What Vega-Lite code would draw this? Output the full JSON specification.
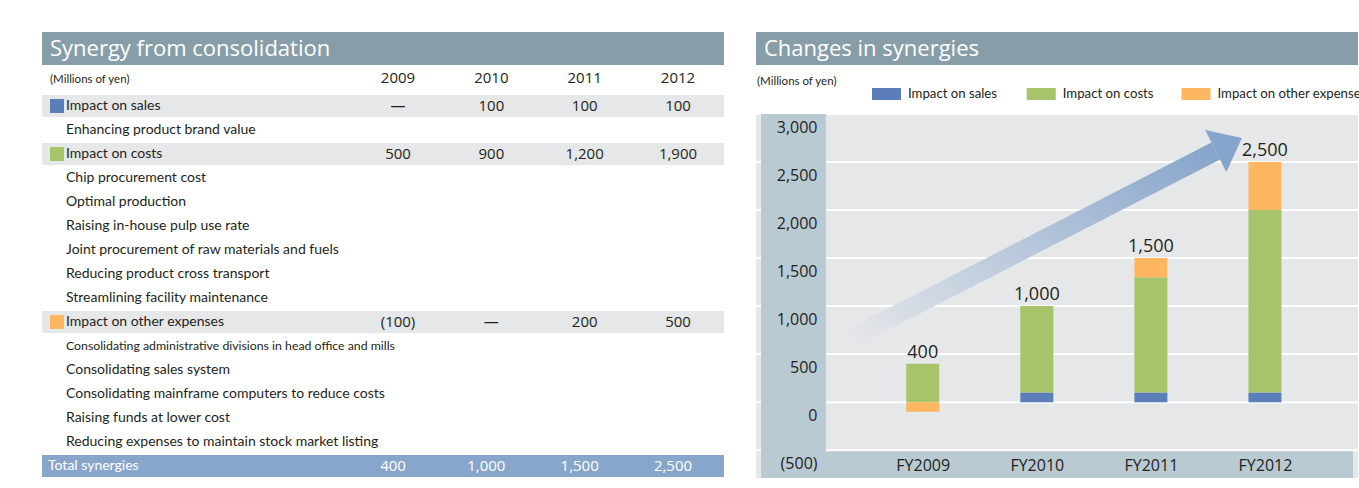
{
  "$schema": "https://vega.github.io/schema/vega-lite/v6.json",
  "background": "white",
  "padding": {"left": 42, "top": 32, "right": 0, "bottom": 0},
  "spacing": 31,
  "config": {"view": {"stroke": null}, "font": "Open Sans"},
  "datasets": {
    "rows": [
      {"r": 0, "label": "(Millions of yen)", "kind": "head"},
      {"r": 1, "label": "Impact on sales", "kind": "main", "cat": "Impact on sales"},
      {"r": 2, "label": "Enhancing product brand value", "kind": "sub"},
      {"r": 3, "label": "Impact on costs", "kind": "main", "cat": "Impact on costs"},
      {"r": 4, "label": "Chip procurement cost", "kind": "sub"},
      {"r": 5, "label": "Optimal production", "kind": "sub"},
      {"r": 6, "label": "Raising in-house pulp use rate", "kind": "sub"},
      {"r": 7, "label": "Joint procurement of raw materials and fuels", "kind": "sub"},
      {"r": 8, "label": "Reducing product cross transport", "kind": "sub"},
      {"r": 9, "label": "Streamlining facility maintenance", "kind": "sub"},
      {"r": 10, "label": "Impact on other expenses", "kind": "main", "cat": "Impact on other expenses"},
      {"r": 11, "label": "Consolidating administrative divisions in head office and mills", "kind": "sub"},
      {"r": 12, "label": "Consolidating sales system", "kind": "sub"},
      {"r": 13, "label": "Consolidating mainframe computers to reduce costs", "kind": "sub"},
      {"r": 14, "label": "Raising funds at lower cost", "kind": "sub"},
      {"r": 15, "label": "Reducing expenses to maintain stock market listing", "kind": "sub"},
      {"r": 16, "label": "Total synergies", "kind": "total"}
    ],
    "cells": [
      {"r": 0, "year": "2009", "v": null}, {"r": 0, "year": "2010", "v": null}, {"r": 0, "year": "2011", "v": null}, {"r": 0, "year": "2012", "v": null},
      {"r": 1, "year": "2009", "v": null}, {"r": 1, "year": "2010", "v": 100}, {"r": 1, "year": "2011", "v": 100}, {"r": 1, "year": "2012", "v": 100},
      {"r": 3, "year": "2009", "v": 500}, {"r": 3, "year": "2010", "v": 900}, {"r": 3, "year": "2011", "v": 1200}, {"r": 3, "year": "2012", "v": 1900},
      {"r": 10, "year": "2009", "v": -100}, {"r": 10, "year": "2010", "v": null}, {"r": 10, "year": "2011", "v": 200}, {"r": 10, "year": "2012", "v": 500},
      {"r": 16, "year": "2009", "v": 400}, {"r": 16, "year": "2010", "v": 1000}, {"r": 16, "year": "2011", "v": 1500}, {"r": 16, "year": "2012", "v": 2500}
    ],
    "bars": [
      {"fy": 2009, "cat": "Impact on costs", "v": 400},
      {"fy": 2009, "cat": "Impact on other expenses", "v": -100},
      {"fy": 2010, "cat": "Impact on sales", "v": 100},
      {"fy": 2010, "cat": "Impact on costs", "v": 900},
      {"fy": 2011, "cat": "Impact on sales", "v": 100},
      {"fy": 2011, "cat": "Impact on costs", "v": 1200},
      {"fy": 2011, "cat": "Impact on other expenses", "v": 200},
      {"fy": 2012, "cat": "Impact on sales", "v": 100},
      {"fy": 2012, "cat": "Impact on costs", "v": 1900},
      {"fy": 2012, "cat": "Impact on other expenses", "v": 500}
    ],
    "totals": [
      {"fy": 2009, "total": 400},
      {"fy": 2010, "total": 1000},
      {"fy": 2011, "total": 1500},
      {"fy": 2012, "total": 2500}
    ],
    "grid": [{"g": -500}, {"g": 0}, {"g": 500}, {"g": 1000}, {"g": 1500}, {"g": 2000}, {"g": 2500}, {"g": 3000}],
    "legend": [{"cat": "Impact on sales"}, {"cat": "Impact on costs"}, {"cat": "Impact on other expenses"}],
    "arrow": [
      {"ax": 2008.341, "ay": 647, "end": "tail"},
      {"ax": 2011.569, "ay": 2614, "end": "head"}
    ]
  },
  "hconcat": [
    {
      "bounds": "flush",
      "spacing": 5,
      "vconcat": [
        {
          "width": 682,
          "height": 33,
          "view": {"fill": "#879ea9", "stroke": null},
          "data": {"values": [{"t": "Synergy from consolidation"}]},
          "mark": {"type": "text", "align": "left", "baseline": "middle", "color": "#ffffff", "font": "Open Sans", "fontSize": 22},
          "encoding": {
            "x": {"datum": "t", "type": "nominal", "axis": null, "scale": {"type": "point", "domain": ["t"], "range": [8, 8]}},
            "text": {"field": "t", "type": "nominal"}
          }
        },
        {
          "width": 682,
          "height": 408,
          "view": {"stroke": null},
          "resolve": {"scale": {"x": "independent"}},
          "encoding": {
            "y": {"field": "r", "type": "ordinal", "title": null, "axis": null,
                  "scale": {"type": "band", "domain": [0,1,2,3,4,5,6,7,8,9,10,11,12,13,14,15,16], "paddingInner": 0, "paddingOuter": 0}}
          },
          "layer": [
            {
              "data": {"name": "rows"},
              "transform": [{"filter": "datum.kind == 'main'"}],
              "mark": {"type": "bar", "color": "#e6e7e8", "height": {"band": 0.92}},
              "encoding": {}
            },
            {
              "data": {"name": "rows"},
              "transform": [{"filter": "datum.kind == 'total'"}],
              "mark": {"type": "bar", "color": "#88a6cc", "height": {"band": 0.92}},
              "encoding": {}
            },
            {
              "data": {"name": "rows"},
              "transform": [{"filter": "datum.kind == 'main'"}],
              "mark": {"type": "square", "size": 196, "filled": true, "opacity": 1},
              "encoding": {
                "x": {"datum": "sq", "type": "nominal", "axis": null, "scale": {"type": "point", "domain": ["sq"], "range": [15, 15]}},
                "color": {"field": "cat", "type": "nominal", "legend": null,
                          "scale": {"domain": ["Impact on sales", "Impact on costs", "Impact on other expenses"], "range": ["#5b7db9", "#a8c46b", "#fcb760"]}}
              }
            },
            {
              "data": {"name": "rows"},
              "transform": [{"filter": "datum.kind == 'main' || datum.kind == 'sub'"}],
              "mark": {"type": "text", "align": "left", "baseline": "middle", "font": "Lato", "color": "#231f20"},
              "encoding": {
                "x": {"datum": "lab", "type": "nominal", "axis": null, "scale": {"type": "point", "domain": ["lab"], "range": [24, 24]}},
                "text": {"field": "label", "type": "nominal"},
                "size": {"condition": {"test": "length(datum.label) > 55", "value": 12.3}, "value": 14}
              }
            },
            {
              "data": {"name": "rows"},
              "transform": [{"filter": "datum.kind == 'head'"}],
              "mark": {"type": "text", "align": "left", "baseline": "middle", "dy": -2, "font": "Lato", "fontSize": 11.5, "color": "#231f20"},
              "encoding": {
                "x": {"datum": "hd", "type": "nominal", "axis": null, "scale": {"type": "point", "domain": ["hd"], "range": [8, 8]}},
                "text": {"field": "label", "type": "nominal"}
              }
            },
            {
              "data": {"name": "rows"},
              "transform": [{"filter": "datum.kind == 'total'"}],
              "mark": {"type": "text", "align": "left", "baseline": "middle", "font": "Lato", "fontSize": 14, "color": "#ffffff"},
              "encoding": {
                "x": {"datum": "tt", "type": "nominal", "axis": null, "scale": {"type": "point", "domain": ["tt"], "range": [6, 6]}},
                "text": {"field": "label", "type": "nominal"}
              }
            },
            {
              "data": {"name": "cells"},
              "transform": [{"filter": "datum.r == 0"}],
              "mark": {"type": "text", "align": "center", "baseline": "middle", "dy": -4, "font": "Open Sans", "fontSize": 15, "color": "#231f20"},
              "encoding": {
                "x": {"field": "year", "type": "nominal", "axis": null, "scale": {"type": "point", "domain": ["2009", "2010", "2011", "2012"], "range": [356, 636], "padding": 0}},
                "text": {"field": "year", "type": "nominal"}
              }
            },
            {
              "data": {"name": "cells"},
              "transform": [{"filter": "datum.r > 0 && datum.r < 16"}],
              "mark": {"type": "text", "align": "center", "baseline": "middle", "font": "Open Sans", "fontSize": 15, "color": "#231f20"},
              "encoding": {
                "x": {"field": "year", "type": "nominal", "axis": null, "scale": {"type": "point", "domain": ["2009", "2010", "2011", "2012"], "range": [356, 636], "padding": 0}},
                "text": {"condition": {"test": "datum.v == null", "value": "—"}, "field": "v", "type": "quantitative", "format": "(,d"}
              }
            },
            {
              "data": {"name": "cells"},
              "transform": [{"filter": "datum.r == 16"}],
              "mark": {"type": "text", "align": "center", "baseline": "middle", "dx": -5, "font": "Open Sans", "fontSize": 15, "color": "#ffffff"},
              "encoding": {
                "x": {"field": "year", "type": "nominal", "axis": null, "scale": {"type": "point", "domain": ["2009", "2010", "2011", "2012"], "range": [356, 636], "padding": 0}},
                "text": {"field": "v", "type": "quantitative", "format": ","}
              }
            }
          ]
        }
      ]
    },
    {
      "bounds": "flush",
      "spacing": 0,
      "vconcat": [
        {
          "width": 602,
          "height": 33,
          "view": {"fill": "#879ea9", "stroke": null},
          "data": {"values": [{"t": "Changes in synergies"}]},
          "mark": {"type": "text", "align": "left", "baseline": "middle", "color": "#ffffff", "font": "Open Sans", "fontSize": 22},
          "encoding": {
            "x": {"datum": "t", "type": "nominal", "axis": null, "scale": {"type": "point", "domain": ["t"], "range": [8, 8]}},
            "text": {"field": "t", "type": "nominal"}
          }
        },
        {
          "width": 602,
          "height": 49,
          "view": {"stroke": null},
          "resolve": {"scale": {"x": "independent"}},
          "layer": [
            {
              "data": {"values": [{"t": "(Millions of yen)"}]},
              "mark": {"type": "text", "align": "left", "baseline": "middle", "dy": -8, "font": "Lato", "fontSize": 11.5, "color": "#231f20"},
              "encoding": {
                "x": {"datum": "t", "type": "nominal", "axis": null, "scale": {"type": "point", "domain": ["t"], "range": [1, 1]}},
                "text": {"field": "t", "type": "nominal"}
              }
            },
            {
              "data": {"name": "legend"},
              "mark": {"type": "point", "shape": "M-1,-0.414L1,-0.414L1,0.414L-1,0.414Z", "size": 841, "filled": true, "opacity": 1, "strokeWidth": 0, "yOffset": 4.5},
              "encoding": {
                "x": {"field": "cat", "type": "nominal", "axis": null, "scale": {"type": "point", "domain": ["Impact on sales", "Impact on costs", "Impact on other expenses"], "range": [130.5, 440], "padding": 0}},
                "color": {"field": "cat", "type": "nominal", "legend": null,
                          "scale": {"domain": ["Impact on sales", "Impact on costs", "Impact on other expenses"], "range": ["#5b7db9", "#a8c46b", "#fcb760"]}}
              }
            },
            {
              "data": {"name": "legend"},
              "mark": {"type": "text", "align": "left", "baseline": "middle", "dx": 21.5, "dy": 4.5, "font": "Lato", "fontSize": 13.2, "color": "#231f20"},
              "encoding": {
                "x": {"field": "cat", "type": "nominal", "axis": null, "scale": {"type": "point", "domain": ["Impact on sales", "Impact on costs", "Impact on other expenses"], "range": [130.5, 440], "padding": 0}},
                "text": {"field": "cat", "type": "nominal"}
              }
            }
          ]
        },
        {
          "width": 602,
          "height": 364,
          "view": {"fill": "#e6e7e9", "stroke": null},
          "encoding": {
            "x": {"type": "quantitative", "title": null,
                  "scale": {"domain": [2007.582, 2012.772], "nice": false, "zero": false}},
            "y": {"type": "quantitative", "title": null,
                  "scale": {"domain": [-790, 3000], "nice": false, "zero": false}}
          },
          "layer": [
            {
              "data": {"name": "grid"},
              "mark": {"type": "rule", "color": "#ffffff", "strokeWidth": 2},
              "encoding": {"y": {"field": "g", "type": "quantitative", "title": null}}
            },
            {
              "data": {"values": [{"z": 0}]},
              "mark": {"type": "rect", "color": "#b9cad3"},
              "encoding": {
                "x": {"datum": 2007.582, "type": "quantitative"}, "x2": {"datum": 2008.151},
                "y": {"datum": -790, "type": "quantitative"}, "y2": {"datum": 3000}
              }
            },
            {
              "data": {"values": [{"z": 0}]},
              "mark": {"type": "rect", "color": "#b9cad3"},
              "encoding": {
                "x": {"datum": 2007.582, "type": "quantitative"}, "x2": {"datum": 2012.772},
                "y": {"datum": -790, "type": "quantitative"}, "y2": {"datum": -512}
              }
            },
            {
              "data": {"name": "arrow"},
              "mark": {"type": "line", "strokeWidth": 19, "strokeCap": "butt",
                       "color": {"gradient": "linear", "x1": 0, "y1": 1, "x2": 1, "y2": 0,
                                 "stops": [{"offset": 0, "color": "#e6e7e9"}, {"offset": 1, "color": "#87a5cc"}]}},
              "encoding": {
                "x": {"field": "ax", "type": "quantitative", "title": null},
                "y": {"field": "ay", "type": "quantitative", "title": null}
              }
            },
            {
              "data": {"name": "arrow"},
              "transform": [{"filter": "datum.end == 'head'"}],
              "mark": {"type": "point", "shape": "M0,-1L1.244,0L0,1Z", "size": 2218, "angle": -26.7, "filled": true, "color": "#87a5cc", "opacity": 1, "strokeWidth": 0},
              "encoding": {
                "x": {"field": "ax", "type": "quantitative", "title": null},
                "y": {"field": "ay", "type": "quantitative", "title": null}
              }
            },
            {
              "data": {"name": "bars"},
              "transform": [{"calculate": "indexof(['Impact on sales', 'Impact on costs', 'Impact on other expenses'], datum.cat)", "as": "ord"}],
              "mark": {"type": "bar", "width": 33},
              "encoding": {
                "x": {"field": "fy", "type": "quantitative", "title": null,
                      "axis": {"values": [2009, 2010, 2011, 2012], "labelExpr": "'FY' + datum.value", "orient": "bottom",
                               "domain": false, "ticks": false, "tickSize": 0, "grid": false, "zindex": 1,
                               "labelPadding": -13, "labelBaseline": "middle", "labelFontSize": 16, "labelFont": "Open Sans", "labelColor": "#231f20",
                               "labelFlush": false, "labelOverlap": false, "title": null}},
                "y": {"field": "v", "type": "quantitative", "title": null, "stack": "zero",
                      "axis": {"values": [-500, 0, 500, 1000, 1500, 2000, 2500, 3000], "format": "(,d", "orient": "left",
                               "domain": false, "ticks": false, "tickSize": 0, "grid": false, "zindex": 1,
                               "labelPadding": -61, "labelAlign": "right", "labelBaseline": "middle", "labelOffset": 13,
                               "labelFontSize": 16, "labelFont": "Open Sans", "labelColor": "#231f20", "labelFlush": false, "labelOverlap": false, "title": null}},
                "color": {"field": "cat", "type": "nominal", "legend": null,
                          "scale": {"domain": ["Impact on sales", "Impact on costs", "Impact on other expenses"], "range": ["#5b7db9", "#a8c46b", "#fcb760"]}},
                "order": {"field": "ord", "type": "quantitative", "sort": "ascending"}
              }
            },
            {
              "mark": {"type": "rule", "color": "#231f20", "strokeWidth": 1.5},
              "encoding": {"y": {"datum": 0, "type": "quantitative"}}
            },
            {
              "data": {"name": "totals"},
              "mark": {"type": "text", "baseline": "alphabetic", "dy": -6, "fontSize": 18, "font": "Open Sans", "color": "#231f20"},
              "encoding": {
                "x": {"field": "fy", "type": "quantitative", "title": null},
                "y": {"field": "total", "type": "quantitative", "title": null},
                "text": {"field": "total", "type": "quantitative", "format": ","}
              }
            }
          ]
        }
      ]
    }
  ]
}
